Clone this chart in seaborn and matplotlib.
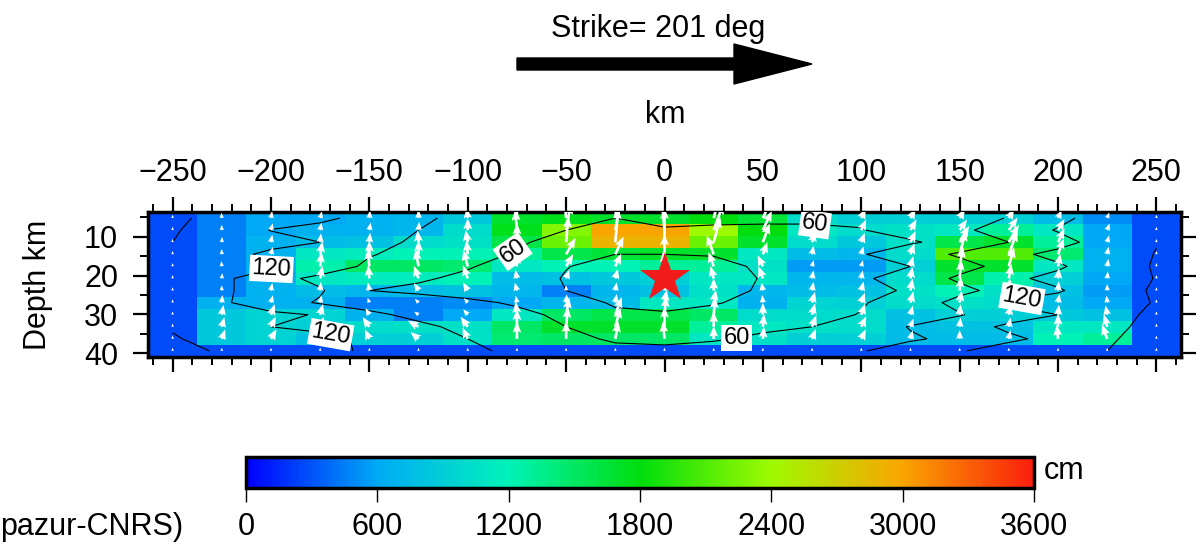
import numpy as np
import matplotlib
matplotlib.use("Agg")
import matplotlib.pyplot as plt
from matplotlib.colors import LinearSegmentedColormap
from matplotlib.patches import FancyArrow
from matplotlib.ticker import FixedLocator
import seaborn as sns

# -----------------------------
# Fault grid (21 cells along strike x 12 cells down dip)
# -----------------------------
strike_km = np.arange(-250, 251, 25)          # cell centres along strike
depth_top, depth_bottom = 3.6, 41.0           # fault top / bottom depth (km)
n_rows = 12

# slip (cm), row 0 = shallowest
slip = np.array([
    [280, 450, 600, 600, 650, 700, 850, 1700, 1750, 1700, 1700, 1800, 1650, 1000, 900, 900, 900, 900, 750, 500, 280],
    [280, 450, 600, 650, 650, 700, 1000, 1750, 2300, 3000, 3000, 2400, 1800, 1100, 1000, 1050, 1100, 1300, 1100, 600, 280],
    [280, 450, 650, 750, 800, 1000, 1050, 1600, 2200, 2900, 2900, 2200, 1700, 1000, 850, 1050, 1600, 1700, 1300, 600, 280],
    [280, 450, 650, 1100, 1150, 1200, 1200, 1300, 1600, 1650, 1700, 1700, 1100, 750, 700, 1000, 2100, 2100, 1450, 650, 280],
    [280, 450, 650, 1250, 1500, 1500, 1450, 1100, 1200, 1200, 1300, 1300, 1050, 550, 550, 900, 1700, 1700, 1100, 650, 280],
    [280, 450, 650, 1100, 1150, 1150, 1200, 750, 800, 850, 900, 1100, 1100, 700, 700, 1000, 1600, 1250, 900, 600, 280],
    [280, 450, 650, 750, 700, 750, 800, 700, 450, 700, 800, 1050, 700, 750, 800, 1050, 1200, 1050, 800, 550, 280],
    [280, 650, 650, 650, 450, 450, 500, 600, 700, 750, 1100, 1100, 650, 950, 900, 1000, 1050, 1000, 750, 600, 280],
    [280, 850, 950, 950, 650, 450, 600, 1100, 1500, 1600, 1600, 1500, 1000, 1000, 1000, 800, 900, 900, 850, 800, 280],
    [280, 850, 950, 900, 1000, 1050, 1050, 1500, 1700, 1700, 1700, 1300, 1100, 1050, 1000, 750, 800, 800, 1100, 1100, 280],
    [280, 850, 950, 800, 900, 900, 1050, 1450, 1500, 1500, 1500, 1100, 1050, 900, 900, 750, 750, 750, 1200, 1300, 280],
    [280, 280, 280, 280, 280, 280, 280, 280, 280, 280, 280, 280, 280, 280, 280, 280, 280, 280, 280, 280, 280],
])

# rupture time (s)
rupture_time = np.array([
    [155, 142, 138, 128, 108, 95, 82, 72, 64, 60, 66, 64, 63, 62, 64, 62, 72, 92, 112, 135, 150],
    [152, 140, 119, 108, 104, 90, 78, 66, 60, 56, 58, 57, 57, 58, 59, 70, 84, 104, 122, 132, 148],
    [150, 137, 132, 120, 98, 86, 74, 63, 52, 42, 44, 45, 50, 55, 58, 57, 70, 90, 110, 133, 149],
    [148, 134, 112, 98, 92, 80, 68, 58, 40, 30, 30, 32, 42, 52, 58, 76, 94, 112, 128, 136, 151],
    [146, 130, 125, 108, 84, 72, 62, 50, 31, 20, 16, 20, 35, 48, 57, 60, 80, 100, 116, 138, 152],
    [142, 126, 102, 82, 70, 63, 55, 44, 28, 14, 4, 15, 32, 45, 56, 72, 95, 114, 128, 137, 151],
    [140, 122, 114, 93, 60, 55, 50, 42, 30, 17, 10, 18, 34, 46, 55, 62, 82, 102, 117, 139, 153],
    [142, 124, 104, 87, 80, 72, 65, 57, 45, 26, 22, 28, 38, 49, 58, 72, 100, 124, 132, 136, 152],
    [145, 130, 126, 118, 95, 84, 75, 66, 55, 36, 33, 38, 45, 53, 61, 68, 88, 108, 120, 141, 155],
    [148, 136, 120, 110, 106, 95, 84, 72, 60, 48, 44, 50, 56, 60, 68, 92, 108, 125, 136, 144, 157],
    [152, 142, 142, 132, 112, 100, 90, 78, 66, 57, 55, 58, 64, 70, 78, 86, 98, 115, 128, 147, 160],
    [156, 148, 134, 124, 118, 106, 96, 84, 74, 66, 65, 68, 73, 80, 88, 106, 118, 132, 142, 150, 162],
])

# rake (deg, 90 = straight up dip)
rake = np.array([
    [90, 95, 80, 75, 85, 90, 95, 90, 95, 85, 90, 75, 65, 70, 65, 60, 60, 60, 65, 70, 90],
    [90, 90, 75, 80, 80, 85, 90, 95, 80, 80, 95, 70, 65, 70, 65, 60, 55, 55, 60, 70, 90],
    [90, 85, 80, 85, 85, 95, 100, 90, 85, 85, 90, 75, 70, 75, 70, 65, 60, 60, 65, 75, 90],
    [90, 90, 75, 80, 90, 90, 95, 95, 60, 65, 90, 110, 70, 80, 75, 70, 75, 70, 70, 80, 90],
    [90, 95, 80, 85, 95, 100, 105, 95, 60, 65, 95, 110, 115, 75, 75, 75, 80, 75, 80, 80, 90],
    [90, 85, 75, 80, 95, 110, 110, 100, 70, 75, 90, 105, 110, 80, 80, 80, 85, 80, 85, 85, 90],
    [90, 90, 80, 85, 100, 120, 120, 105, 90, 80, 85, 90, 100, 80, 75, 80, 85, 85, 85, 90, 90],
    [90, 85, 75, 80, 110, 135, 130, 100, 85, 80, 80, 80, 95, 75, 70, 75, 80, 85, 80, 95, 90],
    [90, 80, 70, 75, 120, 145, 130, 95, 80, 70, 85, 85, 90, 75, 70, 75, 85, 80, 85, 100, 90],
    [90, 75, 65, 70, 125, 150, 125, 90, 85, 75, 90, 90, 85, 70, 65, 70, 85, 80, 90, 105, 90],
    [90, 70, 60, 70, 115, 140, 115, 90, 90, 80, 95, 90, 85, 70, 65, 75, 90, 80, 95, 110, 90],
    [90, 90, 90, 90, 90, 90, 90, 90, 90, 90, 90, 90, 90, 90, 90, 90, 90, 90, 90, 90, 90],
])

hypo_x, hypo_depth = 0, 20.5
plain_levels = [30, 90, 150]
labelled_levels = [60, 120]
label_spots = [(-76, 15), (76, 10), (36, 34), (-200, 17.7), (-169, 33.8), (182, 27)]
label_angles = [35, -8, 0, -3, -10, -10]

x_ticks = np.arange(-250, 251, 50)
depth_ticks = [10, 20, 30, 40]
cbar_ticks = [0, 600, 1200, 1800, 2400, 3000, 3600]

# -----------------------------
# helpers: km / depth -> heatmap cell index
# -----------------------------
dx = 25.0
x_edge = strike_km[0] - dx / 2
dz = (depth_bottom - depth_top) / n_rows
depth_centres = depth_top + dz * (np.arange(n_rows) + 0.5)


def col_of(km):
    return (np.asarray(km, dtype=float) - x_edge) / dx


def row_of(depth):
    return (np.asarray(depth, dtype=float) - depth_top) / dz


def fmt(v):
    return str(v).replace("-", "\u2212")


sns.set_theme(style="ticks", rc={
    "axes.edgecolor": "black", "xtick.color": "black", "ytick.color": "black",
    "text.color": "black", "axes.labelcolor": "black",
})
plt.rcParams["font.family"] = ["Liberation Sans", "DejaVu Sans"]

slip_cmap = LinearSegmentedColormap.from_list("slip", [
    (0.000, (0.00, 0.00, 1.00)),
    (0.167, (0.00, 0.67, 0.96)),
    (0.333, (0.00, 0.95, 0.72)),
    (0.500, (0.00, 0.87, 0.05)),
    (0.667, (0.62, 0.98, 0.00)),
    (0.833, (0.98, 0.65, 0.00)),
    (1.000, (0.98, 0.12, 0.05)),
])

W, H = 1200, 548
fig = plt.figure(figsize=(W / 100, H / 100), dpi=100)
fig.patch.set_facecolor("white")

# -----------------------------
# slip map
# -----------------------------
ax = fig.add_axes([148 / W, 1 - 357 / H, (1181 - 148) / W, (357 - 212) / H])
sns.heatmap(slip, ax=ax, cmap=slip_cmap, vmin=0, vmax=3600, cbar=False,
            xticklabels=False, yticklabels=False, linewidths=0)
mesh = ax.collections[0]

for s in ax.spines.values():
    s.set_visible(True)
    s.set_linewidth(2.5)
    s.set_color("black")

# rupture time contours (annotated every 60 s, plain lines in between)
cx, cy = col_of(strike_km), row_of(depth_centres)
ax.contour(cx, cy, rupture_time, levels=plain_levels, colors="black", linewidths=0.8)
cs = ax.contour(cx, cy, rupture_time, levels=labelled_levels, colors="black", linewidths=0.8)
spots = [(float(col_of(x)), float(row_of(d))) for x, d in label_spots]
labels = ax.clabel(cs, fmt="%d", fontsize=17, inline=False, manual=spots)
for t, ang in zip(labels, label_angles):
    t.set_rotation(ang)
    t.set_bbox(dict(facecolor="white", edgecolor="none", pad=1.5))
    t.set_zorder(5)

# slip vectors
gx, gy = np.meshgrid(cx, cy)
u = slip * np.cos(np.radians(rake))
v = slip * np.sin(np.radians(rake))
ax.quiver(gx, gy, u, v, color="white", angles="uv", pivot="tail",
          scale_units="dots", scale=85, units="dots", width=2.7,
          headwidth=3.3, headlength=4, headaxislength=3.5, zorder=3)

# hypocentre
ax.plot(col_of(hypo_x), row_of(hypo_depth), marker="*", color="#f01c1c",
        markersize=38, markeredgewidth=0, zorder=4)

# axes ticks
ax.xaxis.set_major_locator(FixedLocator(col_of(x_ticks)))
ax.xaxis.set_minor_locator(FixedLocator(col_of(np.arange(-260, 261, 10))))
ax.set_xticklabels([fmt(v) for v in x_ticks])
ax.yaxis.set_major_locator(FixedLocator(row_of(depth_ticks)))
ax.yaxis.set_minor_locator(FixedLocator(row_of([5, 15, 25, 35])))
ax.set_yticklabels([str(v) for v in depth_ticks])
ax.tick_params(axis="x", which="both", top=True, bottom=True,
               labeltop=True, labelbottom=False, direction="out")
ax.tick_params(axis="y", which="both", left=True, right=True,
               labelleft=True, labelright=False, direction="out")
ax.tick_params(which="major", length=10.5, width=1.6, labelsize=22)
ax.tick_params(axis="x", which="major", pad=7)
ax.tick_params(axis="y", which="major", pad=11, labelrotation=0)
ax.tick_params(which="minor", length=5.5, width=1.4)

# -----------------------------
# colour bar
# -----------------------------
cax = fig.add_axes([246 / W, 1 - 488 / H, 788 / W, 31 / H])
cb = fig.colorbar(mesh, cax=cax, orientation="horizontal", ticks=cbar_ticks)
cb.outline.set_linewidth(2.5)
cb.outline.set_edgecolor("black")
cax.tick_params(axis="x", length=10, width=1, labelsize=22, pad=7, direction="out")
cax.set_xticklabels([str(v) for v in cbar_ticks])

# -----------------------------
# annotations (pixel overlay)
# -----------------------------
ov = fig.add_axes([0, 0, 1, 1])
ov.set_xlim(0, W)
ov.set_ylim(H, 0)
ov.axis("off")
ov.add_patch(FancyArrow(517, 64, 295, 0, width=12, head_width=40, head_length=78,
                        length_includes_head=True, color="black"))
ov.text(658, 29, "Strike= 201 deg", fontsize=22, ha="center", va="center")
ov.text(665, 115, "km", fontsize=22, ha="center", va="center")
ov.text(38, 285, "Depth km", fontsize=22, ha="center", va="center", rotation=90)
ov.text(1044, 479, "cm", fontsize=22, ha="left", va="baseline")
ov.text(0, 535, "pazur-CNRS)", fontsize=22, ha="left", va="baseline")

fig.savefig("out.png", dpi=100, facecolor="white")
